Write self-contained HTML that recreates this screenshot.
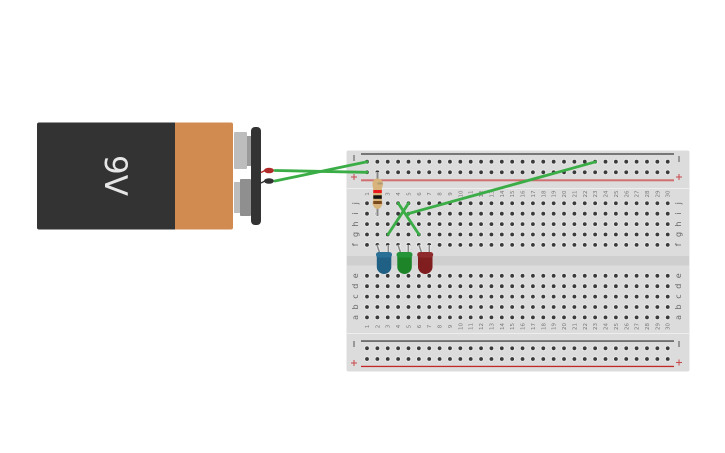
<!DOCTYPE html>
<html><head><meta charset="utf-8"><style>
html,body{margin:0;padding:0;background:#fff;width:725px;height:453px;overflow:hidden}
svg{display:block}
text{font-family:"DejaVu Sans","Liberation Sans",sans-serif}
.soft{filter:blur(.35px)}
.n text{font-size:5.500px;fill:#777;text-anchor:middle}
.l text{font-size:8px;fill:#666;text-anchor:middle}
</style></head><body>
<svg width="725" height="453" viewBox="0 0 725 453" xmlns="http://www.w3.org/2000/svg">
<g class="soft">
<!-- breadboard -->
<rect x="346.500" y="150.500" width="343" height="221" rx="2" fill="#dcdcdc"/>
<rect x="347" y="256" width="342" height="9.500" fill="#cfcfcf"/>
<rect x="347" y="188" width="342" height="1" fill="#eeeeee"/>
<rect x="347" y="333" width="342" height="1" fill="#eeeeee"/>
<rect x="361" y="153" width="313" height="2" fill="#777"/>
<rect x="361" y="179.300" width="313" height="2" fill="#cf6f70"/>
<rect x="361" y="340.300" width="313" height="1.500" fill="#555"/>
<rect x="361" y="365.800" width="313" height="1.300" fill="#c0282a"/>
<!-- hole halos -->
<path d="M367 161.700H669M367 172.300H669M367 203.300H669M367 213.700H669M367 224.100H669M367 234.500H669M367 244.900H669M367 275.800H669M367 286.200H669M367 296.600H669M367 307H669M367 317.400H669M367 348.300H669M367 359H669" fill="none" stroke="#e8e8e8" stroke-width="6" stroke-linecap="round" stroke-dasharray="0 10.370"/>
<path d="M367 161.700H669M367 172.300H669M367 203.300H669M367 213.700H669M367 224.100H669M367 234.500H669M367 244.900H669M367 275.800H669M367 286.200H669M367 296.600H669M367 307H669M367 317.400H669M367 348.300H669M367 359H669" fill="none" stroke="#3a3a3a" stroke-width="3.800" stroke-linecap="round" stroke-dasharray="0 10.370"/>
<!-- rail signs -->
<g fill="#555"><rect x="353.500" y="155" width="1" height="6"/><rect x="678.500" y="156" width="1" height="6"/><rect x="353.500" y="341" width="1" height="6"/><rect x="678.500" y="341" width="1" height="6"/></g>
<g fill="#c8484a"><rect x="351" y="176.500" width="6" height="1"/><rect x="353.500" y="174" width="1" height="6"/><rect x="676" y="176.500" width="6" height="1"/><rect x="678.500" y="174" width="1" height="6"/><rect x="351" y="362.500" width="6" height="1"/><rect x="353.500" y="360" width="1" height="6"/><rect x="676" y="362" width="6" height="1"/><rect x="678.500" y="359.500" width="1" height="6"/></g>
<!-- letters -->
<g class="l">
<text transform="translate(358,203.300) rotate(-90)">j</text><text transform="translate(358,213.700) rotate(-90)">i</text><text transform="translate(358,224.100) rotate(-90)">h</text><text transform="translate(358,234.500) rotate(-90)">g</text><text transform="translate(358,244.900) rotate(-90)">f</text>
<text transform="translate(358,275.800) rotate(-90)">e</text><text transform="translate(358,286.200) rotate(-90)">d</text><text transform="translate(358,296.600) rotate(-90)">c</text><text transform="translate(358,307) rotate(-90)">b</text><text transform="translate(358,317.400) rotate(-90)">a</text>
<text transform="translate(681,203.300) rotate(-90)">j</text><text transform="translate(681,213.700) rotate(-90)">i</text><text transform="translate(681,224.100) rotate(-90)">h</text><text transform="translate(681,234.500) rotate(-90)">g</text><text transform="translate(681,244.900) rotate(-90)">f</text>
<text transform="translate(681,275.800) rotate(-90)">e</text><text transform="translate(681,286.200) rotate(-90)">d</text><text transform="translate(681,296.600) rotate(-90)">c</text><text transform="translate(681,307) rotate(-90)">b</text><text transform="translate(681,317.400) rotate(-90)">a</text>
</g>
<!-- numbers top -->
<g class="n">
<text transform="translate(369,194) rotate(-90)">1</text><text transform="translate(379.400,194) rotate(-90)">2</text><text transform="translate(389.700,194) rotate(-90)">3</text><text transform="translate(400.100,194) rotate(-90)">4</text><text transform="translate(410.500,194) rotate(-90)">5</text><text transform="translate(420.900,194) rotate(-90)">6</text><text transform="translate(431.200,194) rotate(-90)">7</text><text transform="translate(441.600,194) rotate(-90)">8</text><text transform="translate(452,194) rotate(-90)">9</text><text transform="translate(462.300,194) rotate(-90)">10</text>
<text transform="translate(472.700,194) rotate(-90)">11</text><text transform="translate(483.100,194) rotate(-90)">12</text><text transform="translate(493.400,194) rotate(-90)">13</text><text transform="translate(503.800,194) rotate(-90)">14</text><text transform="translate(514.200,194) rotate(-90)">15</text><text transform="translate(524.600,194) rotate(-90)">16</text><text transform="translate(534.900,194) rotate(-90)">17</text><text transform="translate(545.300,194) rotate(-90)">18</text><text transform="translate(555.700,194) rotate(-90)">19</text><text transform="translate(566,194) rotate(-90)">20</text>
<text transform="translate(576.400,194) rotate(-90)">21</text><text transform="translate(586.800,194) rotate(-90)">22</text><text transform="translate(597.100,194) rotate(-90)">23</text><text transform="translate(607.500,194) rotate(-90)">24</text><text transform="translate(617.900,194) rotate(-90)">25</text><text transform="translate(628.300,194) rotate(-90)">26</text><text transform="translate(638.600,194) rotate(-90)">27</text><text transform="translate(649,194) rotate(-90)">28</text><text transform="translate(659.400,194) rotate(-90)">29</text><text transform="translate(669.700,194) rotate(-90)">30</text>
</g>
<!-- numbers bottom -->
<g class="n">
<text transform="translate(369,326.500) rotate(-90)">1</text><text transform="translate(379.400,326.500) rotate(-90)">2</text><text transform="translate(389.700,326.500) rotate(-90)">3</text><text transform="translate(400.100,326.500) rotate(-90)">4</text><text transform="translate(410.500,326.500) rotate(-90)">5</text><text transform="translate(420.900,326.500) rotate(-90)">6</text><text transform="translate(431.200,326.500) rotate(-90)">7</text><text transform="translate(441.600,326.500) rotate(-90)">8</text><text transform="translate(452,326.500) rotate(-90)">9</text><text transform="translate(462.300,326.500) rotate(-90)">10</text>
<text transform="translate(472.700,326.500) rotate(-90)">11</text><text transform="translate(483.100,326.500) rotate(-90)">12</text><text transform="translate(493.400,326.500) rotate(-90)">13</text><text transform="translate(503.800,326.500) rotate(-90)">14</text><text transform="translate(514.200,326.500) rotate(-90)">15</text><text transform="translate(524.600,326.500) rotate(-90)">16</text><text transform="translate(534.900,326.500) rotate(-90)">17</text><text transform="translate(545.300,326.500) rotate(-90)">18</text><text transform="translate(555.700,326.500) rotate(-90)">19</text><text transform="translate(566,326.500) rotate(-90)">20</text>
<text transform="translate(576.400,326.500) rotate(-90)">21</text><text transform="translate(586.800,326.500) rotate(-90)">22</text><text transform="translate(597.100,326.500) rotate(-90)">23</text><text transform="translate(607.500,326.500) rotate(-90)">24</text><text transform="translate(617.900,326.500) rotate(-90)">25</text><text transform="translate(628.300,326.500) rotate(-90)">26</text><text transform="translate(638.600,326.500) rotate(-90)">27</text><text transform="translate(649,326.500) rotate(-90)">28</text><text transform="translate(659.400,326.500) rotate(-90)">29</text><text transform="translate(669.700,326.500) rotate(-90)">30</text>
</g>
<!-- battery -->
<rect x="234" y="132" width="13" height="37" rx="1" fill="#bdbdbd"/>
<rect x="247" y="136" width="4" height="30" fill="#9a9a9a"/>
<rect x="234" y="182" width="6" height="31" fill="#bdbdbd"/>
<rect x="240" y="179" width="11" height="37" rx="1" fill="#8f8f8f"/>
<path d="M39 122.500H175V229.500H39a2 2 0 0 1-2-2V124.500a2 2 0 0 1 2-2Z" fill="#333"/>
<path d="M175 122.500H231a2 2 0 0 1 2 2V227.500a2 2 0 0 1-2 2H175Z" fill="#d18b50"/>
<text transform="translate(115,175.500) rotate(90)" font-size="31" fill="#e6e6e6" text-anchor="middle" dominant-baseline="central">9V</text>
<rect x="251" y="127" width="10" height="98" rx="4" fill="#333"/>
<!-- battery leads -->
<path d="M261 172.500L265 170.500" stroke="#b02a2a" stroke-width="1.500" fill="none"/>
<ellipse cx="269" cy="170.500" rx="5" ry="2.800" fill="#b02a2a"/>
<path d="M261 183L265 181" stroke="#333" stroke-width="1.500" fill="none"/>
<ellipse cx="269" cy="181" rx="5" ry="2.800" fill="#333"/>
<!-- resistor -->
<path d="M377.500 172V216" stroke="#e4e4e4" stroke-width="3.500" fill="none"/>
<path d="M377.500 172V216" stroke="#888" stroke-width="2" fill="none"/>
<path d="M372.500 184C372.500 180 375 178.500 377.500 178.500C380 178.500 383 180 383 184C383 186 382 187 381.800 189V200C382 202 383 203 382 205C381 207.500 379.500 209 377.500 209C375.500 209 374 207.500 373 205C372 203 373 202 373.200 200V189C373 187 372.500 186 372.500 184Z" fill="#d8b47c"/>
<rect x="373.300" y="190" width="8.500" height="3" fill="#e8191c"/>
<rect x="373.300" y="195.300" width="8.500" height="3.500" fill="#111"/>
<rect x="373.300" y="201" width="8.500" height="3" fill="#7a4a1e"/>
<rect x="377.500" y="182.500" width="5" height="2" fill="#b09a70"/>
<!-- LED legs -->
<path d="M377 245L380 254M388.300 245V254M398 245L401 254M408.300 245V254M419 245L422 254M429.300 245V254" stroke="#e8e8e8" stroke-width="3.500" fill="none"/>
<path d="M377 245L380 254M388.300 245V254M398 245L401 254M408.300 245V254M419 245L422 254M429.300 245V254" stroke="#8a8a8a" stroke-width="1.500" fill="none"/>
<!-- LEDs -->
<path d="M376.800 254H391.300V267.500a7.300 7.300 0 0 1-14.500 0Z" fill="#1f6084"/><rect x="376" y="252" width="16" height="5.500" rx="2.700" fill="#2a6f96"/>
<path d="M397.300 254H411.800V267.500a7.300 7.300 0 0 1-14.500 0Z" fill="#1e8428"/><rect x="396.500" y="252" width="16" height="5.500" rx="2.700" fill="#26953a"/>
<path d="M418 254H432.500V267.500a7.300 7.300 0 0 1-14.500 0Z" fill="#7f1d1f"/><rect x="417.200" y="252" width="16" height="5.500" rx="2.700" fill="#8f2a2c"/>
<!-- wires -->
<g stroke="#3bad46" stroke-width="2.800" fill="none" stroke-linecap="round">
<path d="M275 170.500L367 172.300"/>
<path d="M275 181L367 161.700"/>
<path d="M388 234.500L408.500 203.300"/>
<path d="M398.300 203.300L419 234.500"/>
<path d="M407 214L595.500 161.800"/>
</g>
</g>
</svg>
</body></html>
